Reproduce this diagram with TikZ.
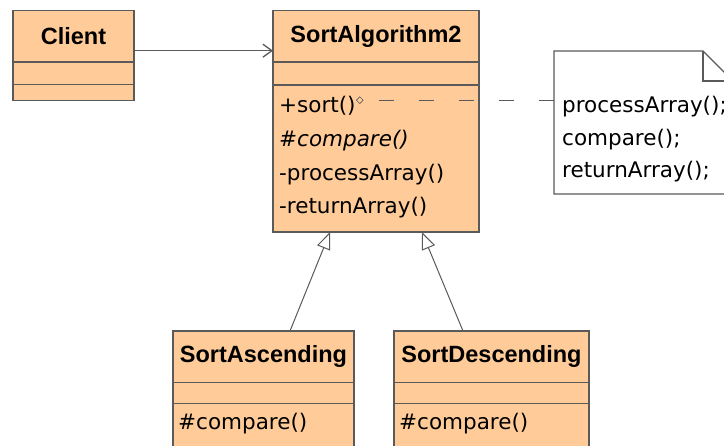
\documentclass[tikz,border=0pt]{standalone}
\usepackage{fontspec}
\setmainfont{DejaVu Sans}
\newfontfamily\titlefont{Liberation Sans}
\usetikzlibrary{positioning}
\usetikzlibrary{calc}
\usetikzlibrary{arrows.meta}
\usetikzlibrary{shapes.geometric}
\definecolor{classfill}{HTML}{FFCC99}
\definecolor{classline}{HTML}{5A5A5A}
\newcommand*{\ttlht}{51.5pt}
\newcommand*{\memfont}{\fontsize{21.5}{26}\selectfont}

\begin{document}
\begin{tikzpicture}[x=1pt, y=-1pt,
    compart/.style={rectangle, draw=classline, fill=classfill, line width=1.4pt, inner sep=0pt, outer sep=0pt, anchor=north west},
    classtitle/.style={compart, minimum height=\ttlht, font=\titlefont\bfseries\fontsize{23.5}{28}\selectfont},
    member/.style={anchor=base west, inner sep=0pt, font=\memfont},
    assoc/.style={draw=classline, line width=1.3pt, -{Straight Barb[length=9pt,width=13pt]}},
    inherit/.style={draw=classline, line width=1pt, -{Triangle[open,length=17pt,width=14pt,fill=white]}},
    notelink/.style={draw=classline, line width=1.3pt, dash pattern=on 15pt off 25pt},
    noteline/.style={draw=classline, line width=1.3pt, fill=white}]
    \fill [white] (0,0) rectangle (724,446);
    \useasboundingbox (0,0) rectangle (724,446);
    % client class
    \node [classtitle, minimum width=121pt] (client) at (13,10.7) {Client};
    \node [compart, minimum width=121pt, minimum height=22.5pt, below=0pt of client] (clientattr) {};
    \node [compart, minimum width=121pt, minimum height=16pt, below=0pt of clientattr] (clientops) {};
    % abstract algorithm
    \node [classtitle, minimum width=206pt] (algo) at (273,10.7) {SortAlgorithm2};
    \node [compart, minimum width=206pt, minimum height=23pt, below=0pt of algo] (algoattr) {};
    \node [compart, minimum width=206pt, minimum height=147pt, below=0pt of algoattr] (algoops) {};
    \node [member] (sort)    at ($(algoops.north west)+(6,27)$)  {+sort()};
    \node [member] (cmp)     at ($(algoops.north west)+(6,61)$)  {\itshape\#compare()};
    \node [member] (procarr) at ($(algoops.north west)+(6,95)$)  {-processArray()};
    \node [member] (retarr)  at ($(algoops.north west)+(6,128)$) {-returnArray()};
    \node [diamond, draw=classline, line width=0.6pt, inner sep=0pt, minimum size=7pt] (sortmark) at ($(sort.base east)+(4,-12)$) {};
    % note
    \node [anchor=north west, minimum width=179pt, minimum height=143pt, inner sep=0pt, outer sep=0pt] (note) at (554,51) {};
    \draw [noteline] (note.north west) -- ($(note.north east)+(-30,0)$) -- ($(note.north east)+(0,30)$) -- (note.south east) -- (note.south west) -- cycle;
    \draw [noteline, fill=none] ($(note.north east)+(-30,0)$) -- ($(note.north east)+(-30,30)$) -- ($(note.north east)+(0,30)$);
    \node [member] (n1) at ($(note.north west)+(8,62)$)  {processArray();};
    \node [member] (n2) at ($(note.north west)+(8,94.5)$) {compare();};
    \node [member] (n3) at ($(note.north west)+(8,127)$) {returnArray();};
    % subclasses
    \node [classtitle, minimum width=181pt] (asc) at (173,331) {SortAscending};
    \node [compart, minimum width=181pt, minimum height=21pt, below=0pt of asc] (ascattr) {};
    \node [compart, minimum width=181pt, minimum height=60pt, below=0pt of ascattr] (ascops) {};
    \node [member] (asccmp) at ($(ascops.north west)+(5,26)$) {\#compare()};
    \node [classtitle, minimum width=195pt] (desc) at (394,331) {SortDescending};
    \node [compart, minimum width=195pt, minimum height=21pt, below=0pt of desc] (descattr) {};
    \node [compart, minimum width=195pt, minimum height=60pt, below=0pt of descattr] (descops) {};
    \node [member] (desccmp) at ($(descops.north west)+(5,26)$) {\#compare()};
    % connectors
    \draw [assoc] ([yshift=-40pt]client.north east) -- ([yshift=-40pt]algo.north west);
    \draw [notelink] (note.west |- sortmark.east) -- (sortmark.east);
    \draw [inherit] ([xshift=26.5pt]asc.north) -- ([xshift=-46pt]algoops.south);
    \draw [inherit] ([xshift=-28.5pt]desc.north) -- ([xshift=46pt]algoops.south);
\end{tikzpicture}
\end{document}
